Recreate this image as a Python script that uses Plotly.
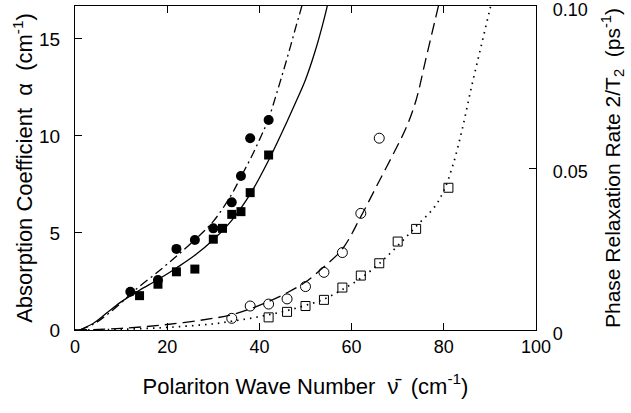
import plotly.graph_objects as go

# Measured data (left axis, absorption coefficient, cm^-1)
circ_x = [12, 18, 22, 26, 30, 34, 36, 38, 42]
circ_y = [1.97, 2.58, 4.18, 4.64, 5.24, 6.58, 7.94, 9.88, 10.82]
sq_x = [14, 18, 22, 26, 30, 32, 34, 36, 38, 42]
sq_y = [1.77, 2.36, 3.00, 3.14, 4.68, 5.24, 5.96, 6.10, 7.08, 9.02]

# Measured data (right axis, phase relaxation rate, ps^-1)
ocirc_x = [34, 38, 42, 46, 50, 54, 58, 62, 66]
ocirc_y = [0.0036, 0.0074, 0.0080, 0.0096, 0.0134, 0.0178, 0.0239, 0.0360, 0.0592]
osq_x = [42, 46, 50, 54, 58, 62, 66, 70, 74, 81]
osq_y = [0.0039, 0.0056, 0.0074, 0.0093, 0.0131, 0.0168, 0.0206, 0.0273, 0.0312, 0.0439]

# Curves
solid_x = [1, 4, 7, 10, 14, 18, 22, 26, 30, 34, 38, 42, 46, 48, 50, 52, 54, 55.5]
solid_y = [0, 0.35, 0.9, 1.45, 2.05, 2.6, 3.2, 3.85, 4.65, 5.65, 7.0, 8.75, 10.75, 11.8, 12.9, 14.3, 16.0, 17.5]
dd_x = [1, 4, 7, 10, 12, 14, 18, 22, 26, 30, 34, 36, 38, 40, 42, 44, 46, 48, 49.2, 50.5]
dd_y = [0, 0.3, 0.8, 1.4, 1.85, 2.25, 3.0, 3.8, 4.65, 5.6, 7.0, 7.9, 8.8, 9.8, 10.9, 12.4, 14.0, 15.7, 16.7, 18.0]
dash_x = [0, 10, 20, 30, 34, 38, 42, 46, 50, 54, 58, 62, 66, 70, 72, 74, 76, 78, 80]
dash_y = [0, 0.0005, 0.0017, 0.0036, 0.0047, 0.0065, 0.0088, 0.0115, 0.0148, 0.0195, 0.025, 0.035, 0.046, 0.057, 0.063, 0.071, 0.083, 0.095, 0.107]
dot_x = [0, 10, 20, 30, 34, 38, 42, 46, 50, 54, 58, 62, 66, 70, 74, 78, 80, 82, 84, 86, 88, 90, 91]
dot_y = [0, 0.0002, 0.0008, 0.0019, 0.0027, 0.0036, 0.0047, 0.006, 0.0076, 0.0095, 0.0125, 0.016, 0.0205, 0.026, 0.032, 0.038, 0.043, 0.051, 0.062, 0.075, 0.087, 0.099, 0.105]

x_ticks = [0, 20, 40, 60, 80, 100]
yl_ticks = [0, 5, 10, 15]
yr_ticks = [0, 0.05, 0.10]
yr_labels = ["0", "0.05", "0.10"]

FONT = "Liberation Sans"
lw = 1.3

fig = go.Figure()
fig.add_trace(go.Scatter(x=solid_x, y=solid_y, mode="lines", line=dict(color="black", width=lw, shape="spline"), yaxis="y"))
fig.add_trace(go.Scatter(x=dd_x, y=dd_y, mode="lines", line=dict(color="black", width=lw, dash="9px,4px,2px,4px", shape="spline"), yaxis="y"))
fig.add_trace(go.Scatter(x=dash_x, y=dash_y, mode="lines", line=dict(color="black", width=lw, dash="12px,6px", shape="spline"), yaxis="y2"))
fig.add_trace(go.Scatter(x=dot_x, y=dot_y, mode="lines", line=dict(color="black", width=lw + 0.4, dash="1.5px,5px", shape="spline"), yaxis="y2"))

fig.add_trace(go.Scatter(x=circ_x, y=circ_y, mode="markers", marker=dict(symbol="circle", size=10, color="black"), yaxis="y"))
fig.add_trace(go.Scatter(x=sq_x, y=sq_y, mode="markers", marker=dict(symbol="square", size=9, color="black"), yaxis="y"))
fig.add_trace(go.Scatter(x=ocirc_x, y=ocirc_y, mode="markers", marker=dict(symbol="circle-open", size=10, color="black", line=dict(width=1)), yaxis="y2"))
fig.add_trace(go.Scatter(x=osq_x, y=osq_y, mode="markers", marker=dict(symbol="square-open", size=9, color="black", line=dict(width=1)), yaxis="y2"))

fig.update_layout(
    width=631, height=413,
    margin=dict(l=75, r=95, t=6, b=83, autoexpand=False),
    paper_bgcolor="white", plot_bgcolor="white",
    showlegend=False,
    font=dict(family=FONT, size=18, color="black"),
    xaxis=dict(
        range=[0, 100], tickvals=x_ticks, ticks="inside", ticklen=7, tickcolor="black",
        showline=True, linecolor="black", linewidth=1.2, mirror="ticks",
        showgrid=False, zeroline=False, ticklabelstandoff=0,
        tickfont=dict(family=FONT, size=18),
        title=dict(text="Polariton Wave Number  ν̄  (cm<sup>-1</sup>)", standoff=22,
                   font=dict(family=FONT, size=22)),
    ),
    yaxis=dict(
        range=[0, 16.7], tickvals=yl_ticks, ticks="inside", ticklen=7, tickcolor="black",
        showline=True, linecolor="black", linewidth=1.2,
        showgrid=False, zeroline=False, ticklabelstandoff=10,
        tickfont=dict(family=FONT, size=19),
        title=dict(text="Absorption Coefficient  α  (cm<sup>-1</sup>)", standoff=0,
                   font=dict(family=FONT, size=22)),
    ),
    yaxis2=dict(
        range=[0, 0.1], tickvals=yr_ticks, ticktext=yr_labels, overlaying="y", side="right",
        ticks="inside", ticklen=7, tickcolor="black", ticklabeloverflow="allow",
        ticklabelshift=4,
        showline=True, linecolor="black", linewidth=1.2,
        showgrid=False, zeroline=False, ticklabelstandoff=12,
        tickfont=dict(family=FONT, size=18),
        title=dict(text="Phase Relaxation Rate 2/T<sub>2</sub>  (ps<sup>-1</sup>)", standoff=18,
                   font=dict(family=FONT, size=21)),
    ),
)

fig.write_html("out.html", config={"displayModeBar": False},
               post_script="document.body.style.margin='0';")
